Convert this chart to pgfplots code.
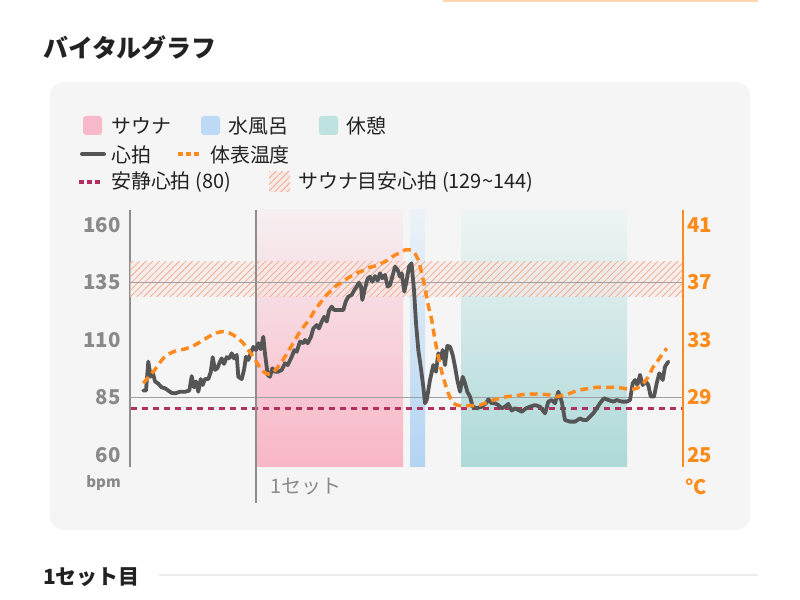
\documentclass[border=0pt]{standalone}
\usepackage{pgfplots}
\pgfplotsset{compat=1.18}
\usepackage{fontspec}
\setmainfont{Noto Sans CJK JP}
\usetikzlibrary{patterns.meta}
\definecolor{cardbg}{HTML}{F5F5F5}
\definecolor{hrline}{HTML}{555555}
\definecolor{tempor}{HTML}{FF8A1F}
\definecolor{axisor}{HTML}{FF8C1A}
\definecolor{rest}{HTML}{B03060}
\definecolor{gridg}{HTML}{A0A0A0}
\definecolor{axisg}{HTML}{8E8E8E}
\definecolor{tickg}{HTML}{8A8A8A}
\definecolor{saunaTop}{HTML}{F6EFF1}
\definecolor{saunaBot}{HTML}{F8B6C6}
\definecolor{blueTop}{HTML}{ECF2F8}
\definecolor{blueBot}{HTML}{B3D4F3}
\definecolor{tealTop}{HTML}{EFF4F4}
\definecolor{tealBot}{HTML}{ADD9D8}
\definecolor{hatchc}{HTML}{F2AA8E}
\definecolor{hatchbg}{HTML}{F7EAE6}
\definecolor{swPink}{HTML}{F8B9CB}
\definecolor{swBlue}{HTML}{BCD9F6}
\definecolor{swTeal}{HTML}{BEE2DF}
\definecolor{txt}{HTML}{222222}
\definecolor{peach}{HTML}{FFD6B0}

\pgfplotstableread{
x hr
143.3 88
146 88
148.3 100.6
150.7 94
152.7 96
155 92
158.3 91
161.7 89.4
165 89
168.3 88
171.7 87
175 86.8
180 87.5
185 87.5
189.3 88
191.7 94.3
194 89.4
196 92
198.3 87.5
200.7 93
202.7 90.4
205 93
208.3 93
210.7 96
212.7 102.5
215 97
217.3 97.7
220 100.6
221.7 102
224 99.6
226.7 102.5
229.3 102
231.7 104.2
234 102
236.7 103.5
238.3 94
241.7 93
244 97
246 102.7
248.3 101.3
250.7 104.2
253.3 107
256 105.6
258.3 108.6
260.7 106
263.3 111.4
265 104
267.7 94.8
270 94
272.3 97.7
275 96.2
278.3 96.2
281.7 97
285 99.9
287.7 99.1
291 102
294.3 105.6
296.7 104.9
300 109.3
303.3 108.6
305 110
307.7 108.6
311 111.4
313.3 115
316.7 116.5
319 115
321.7 118
324.3 120.1
326.7 118
329 122.7
331.7 124.5
334.3 123
337 123
340 123
343.3 123
345.7 126.7
348.3 128.8
351.7 129.6
354.3 131.7
356.7 133.2
359 134.9
361 133.2
362.3 127.4
365 132.5
367.7 136.8
370 137.5
372.3 135.3
375 137.8
377.7 135.8
380 139
382.3 136.8
385 138.3
387.7 133.2
390 133.9
392.3 137.5
395 141.9
397.7 140.4
400 137.5
401.7 139
404.3 131
406.7 136
409 141.9
411.5 143.3
414 131.7
416 117.3
418.3 105.6
420.7 98.4
423.3 89.7
425 82.5
426.7 83.9
430 92.6
433.3 99.1
436 96.2
438.3 104.2
440.7 102
442.7 105.6
445 99.1
447.3 107.4
450 107.1
452.7 103.5
455 98.4
457.3 92.6
460 87.5
462.7 94
465 91.2
467.3 87.5
470 85.4
472.7 81
476.7 80.3
481.7 81
486 82.5
488.3 84.2
491.7 82.5
495 82.5
498.3 81.7
501.7 80.3
505 81
508.3 82.2
511.7 79.3
515 80.3
518.3 79.6
521.7 78.8
526 80.3
530 81
535 81.7
540 81
545 78.1
548.3 83.2
551.7 83.9
555 82.5
558.3 87.5
561.7 83.2
565 75.2
570 74.5
575 74.5
580 75.9
583.3 75.2
586.7 75.2
590 76.7
593.3 78.1
596.7 80.3
600 82.5
604 84.7
608.3 83.9
613.3 83.2
616.7 83.9
621.7 83.2
626.7 83.2
630 83.9
632.7 91.2
635 92.6
637.3 90.4
640 94.8
642.7 90.4
646 91.9
648.3 90.4
650.7 85.4
654 85.4
656.7 91.2
659.3 95.5
662.7 92.6
665 98.4
668.3 100.6
}\hrtable

\pgfplotstableread{
x t
143.3 29.99
148.3 30.4
153.3 30.8
158.3 31.26
163.3 31.73
170 32.07
176.7 32.26
183.3 32.35
190 32.49
196.7 32.72
203.3 33.0
210 33.28
216.7 33.5
223.3 33.58
230 33.47
236.7 33.19
243.3 32.77
248.3 32.3
253.3 31.84
258.3 31.26
263.3 30.8
268.3 30.63
272 30.7
276 30.95
280 31.33
285 31.84
290 32.42
295 33.0
300 33.58
305 34.04
310 34.51
315 35.09
320 35.55
325 36.01
330 36.36
335 36.71
340 36.94
345 37.17
350 37.4
355 37.59
360 37.75
365 37.87
370 38.06
375 38.15
380 38.29
385 38.45
390 38.68
395 38.91
400 39.07
405 39.26
410 39.26
414 39.1
418.3 38.57
421.7 37.64
425 36.6
428.3 35.4
431.7 34.39
435 33.0
438.3 31.84
441.7 30.8
445 29.99
448.3 29.29
453.3 28.6
460 28.43
466.7 28.43
473.3 28.43
480 28.48
486.7 28.64
493.3 28.83
500 28.94
506.7 29.06
513.3 29.1
520 29.17
526.7 29.24
533.3 29.24
540 29.24
550 29.17
556.7 29.06
563.3 29.17
570 29.29
576.7 29.47
583.3 29.57
590 29.64
596.7 29.71
603.3 29.71
610 29.71
616.7 29.71
623.3 29.64
630 29.57
636.7 29.64
643.3 29.99
648.3 30.45
653.3 31.14
658.3 31.61
661.7 31.96
666.7 32.42
}\temptable

\begin{document}
\begin{tikzpicture}[x=1bp,y=1bp]
\useasboundingbox (0,0) rectangle (800,600);
\begin{scope}[yshift=600bp, y=-1bp]
\fill[white] (0,0) rectangle (800,600);
\fill[peach] (443,0) rectangle (758,2.5);
\node[anchor=west,inner sep=0pt,font=\fontsize{25}{25}\selectfont\bfseries,text=txt] at (43,48) {バイタルグラフ};
\fill[cardbg, rounded corners=14bp] (50,82) rectangle (750,530);

% legend
\fill[swPink, rounded corners=3bp] (83,116) rectangle (102,135);
\node[anchor=west,inner sep=0pt,font=\fontsize{20}{20}\selectfont,text=txt] at (111,126) {サウナ};
\fill[swBlue, rounded corners=3bp] (201,116) rectangle (220,135);
\node[anchor=west,inner sep=0pt,font=\fontsize{20}{20}\selectfont,text=txt] at (228,126) {水風呂};
\fill[swTeal, rounded corners=3bp] (319,116) rectangle (338,135);
\node[anchor=west,inner sep=0pt,font=\fontsize{20}{20}\selectfont,text=txt] at (346,126) {休憩};
\draw[hrline, line width=4bp, line cap=round] (82,154) -- (104,154);
\node[anchor=west,inner sep=0pt,font=\fontsize{20}{20}\selectfont,text=txt] at (111,154.5) {心拍};
\draw[tempor, line width=3.5bp, dash pattern=on 4.5bp off 3.5bp] (178,154) -- (202,154);
\node[anchor=west,inner sep=0pt,font=\fontsize{20}{20}\selectfont,text=txt] at (210,154.5) {体表温度};
\draw[rest, line width=3.5bp, dash pattern=on 4.5bp off 3.5bp] (79,182) -- (103,182);
\node[anchor=west,inner sep=0pt,font=\fontsize{20}{20}\selectfont,text=txt] at (111,182.5) {安静心拍 (80)};
\fill[hatchbg] (269,172) rectangle (290,192);
\fill[pattern={Lines[angle=45,distance=4.5bp,line width=0.8bp]}, pattern color=hatchc] (269,172) rectangle (290,192);
\node[anchor=west,inner sep=0pt,font=\fontsize{20}{20}\selectfont,text=txt] at (298,182.5) {サウナ目安心拍 (129\textasciitilde144)};
\end{scope}

% main axis (heart rate)
\begin{axis}[
  at={(130bp,133bp)}, anchor=south west,
  width=553bp, height=257bp, scale only axis,
  xmin=130, xmax=683, ymin=54.783, ymax=166.52,
  axis x line=none, axis y line*=left,
  y axis line style={draw=axisg, line width=1.5bp, -},
  ytick={60,85,110,135,160}, yticklabels={60,85,110,135,160},
  major tick length=0pt, ytick style={draw=none},
  yticklabel style={font=\fontsize{20.5}{20.5}\selectfont\bfseries, text=tickg, inner sep=0pt, anchor=east, xshift=-9bp},
  clip=false,
]
\addplot[draw=none, top color=saunaTop, bottom color=saunaBot] coordinates {(256,54.783) (256,166.52) (403,166.52) (403,54.783) (256,54.783)};
\addplot[draw=none, top color=blueTop, bottom color=blueBot] coordinates {(410,54.783) (410,166.52) (425,166.52) (425,54.783) (410,54.783)};
\addplot[draw=none, top color=tealTop, bottom color=tealBot] coordinates {(461,54.783) (461,166.52) (627,166.52) (627,54.783) (461,54.783)};
\addplot[draw=none, fill=hatchbg, fill opacity=0.6] coordinates {(130,129) (130,144) (683,144) (683,129) (130,129)};
\addplot[draw=none, pattern={Lines[angle=45,distance=4.7bp,line width=0.75bp]}, pattern color=hatchc] coordinates {(130,129) (130,144) (683,144) (683,129) (130,129)};
\addplot[gridg, line width=1.2bp] coordinates {(130,135) (683,135)};
\addplot[gridg, line width=1.2bp] coordinates {(130,85) (683,85)};
\addplot[rest, line width=3bp, dash pattern=on 6bp off 5bp] coordinates {(131,80) (683,80)};
\addplot[axisg, line width=1.5bp] coordinates {(256,166.52) (256,39.1)};
\addplot[hrline, line width=3.8bp, line join=round, line cap=round] table[x=x,y=hr] {\hrtable};
\end{axis}

% temperature axis
\begin{axis}[
  at={(130bp,133bp)}, anchor=south west,
  width=553bp, height=257bp, scale only axis,
  xmin=130, xmax=683, ymin=24.1653, ymax=42.0432,
  axis x line=none, axis y line*=right,
  y axis line style={draw=axisor, line width=2bp, -},
  ytick={25,29,33,37,41}, yticklabels={25,29,33,37,41},
  major tick length=0pt, ytick style={draw=none},
  yticklabel style={font=\fontsize{20.5}{20.5}\selectfont\bfseries, text=axisor, inner sep=0pt, anchor=west, xshift=4bp},
  clip=false,
]
\addplot[tempor, line width=3.5bp, dash pattern=on 8bp off 5bp, smooth] table[x=x,y=t] {\temptable};
\end{axis}

\begin{scope}[yshift=600bp, y=-1bp]
\node[anchor=east,inner sep=0pt,font=\fontsize{15}{15}\selectfont\bfseries,text=tickg] at (121,483) {bpm};
\node[anchor=west,inner sep=0pt,font=\fontsize{20}{20}\selectfont\bfseries,text=axisor] at (685,487) {°C};
\node[anchor=west,inner sep=0pt,font=\fontsize{20}{20}\selectfont,text=tickg] at (270,487) {1セット};
\node[anchor=west,inner sep=0pt,font=\fontsize{21}{21}\selectfont\bfseries,text=txt] at (43,577) {1セット目};
\draw[black!7, line width=2bp] (159,575) -- (758,575);
\end{scope}
\end{tikzpicture}
\end{document}
